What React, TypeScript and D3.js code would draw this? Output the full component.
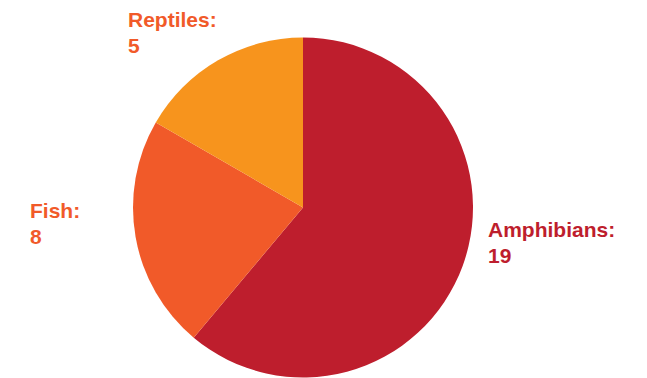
import React from "react";
import * as d3 from "d3";

const categories = ["Amphibians", "Fish", "Reptiles"];
// numbers printed in the labels
const labelValues = [19, 8, 5];
// slice sizes as drawn in the reference (angles 220°, 80°, 60°)
const sliceValues = [11, 4, 3];
const sliceColors = ["#BE1E2D", "#F15A29", "#F7941D"];
const labelColors = ["#BE1E2D", "#F15A29", "#F15A29"];

const W = 647;
const H = 378;
const cx = 303;
const cy = 207.5;
const R = 170;

// label anchor positions (left x, first baseline)
const labelPos: [number, number][] = [
  [488, 237],
  [30, 218],
  [128, 27],
];

export default function App() {
  const data = categories.map((c, i) => ({ name: c, value: sliceValues[i], label: labelValues[i], i }));
  const pie = d3.pie<any>().value((d) => d.value).sort(null).startAngle(0).endAngle(2 * Math.PI);
  const arcs = pie(data);
  const arc = d3.arc<any>().innerRadius(0).outerRadius(R);
  return (
    <svg
      width={W}
      height={H}
      style={{ position: "absolute", left: 0, top: 0, background: "#fff" }}
    >
      <g transform={`translate(${cx},${cy})`}>
        {arcs.map((a, i) => (
          <path key={i} d={arc(a) || ""} fill={sliceColors[i]} />
        ))}
      </g>
      {data.map((d, i) => (
        <text
          key={d.name}
          x={labelPos[i][0]}
          y={labelPos[i][1]}
          fill={labelColors[i]}
          fontFamily="'Liberation Sans', Arial, sans-serif"
          fontWeight={700}
          fontSize={21}
        >
          <tspan x={labelPos[i][0]}>{d.name}:</tspan>
          <tspan x={labelPos[i][0]} dy={26}>{d.label}</tspan>
        </text>
      ))}
    </svg>
  );
}
